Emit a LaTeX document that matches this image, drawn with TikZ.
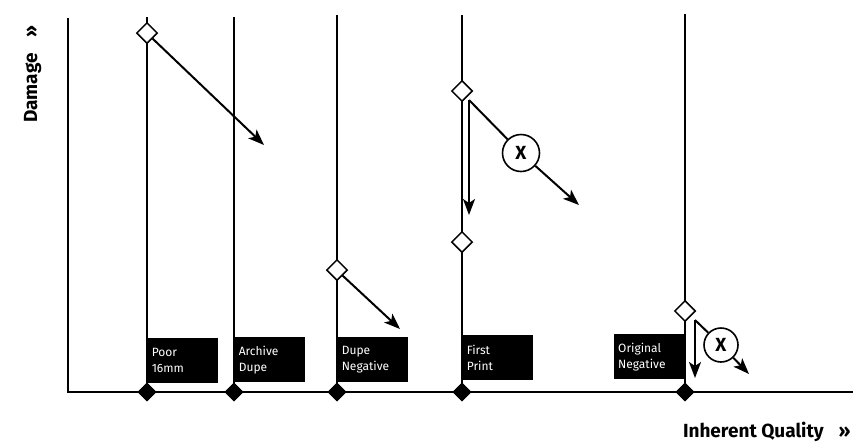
\documentclass[tikz,border=0pt]{standalone}
\usepackage{fontspec}
\setmainfont{Fira Sans}
\usetikzlibrary{arrows.meta,shapes.geometric}
\begin{document}
\begin{tikzpicture}[x=1pt,y=-1pt,
  axisline/.style={line width=2.8pt},
  stem/.style={line width=1.5pt},
  opend/.style={diamond,draw,fill=white,line width=1.5pt,minimum width=21pt,minimum height=21pt,inner sep=0pt},
  filld/.style={diamond,fill=black,minimum width=19pt,minimum height=19pt,inner sep=0pt},
  lab/.style={fill=black,text=white,font=\fontsize{12}{16}\selectfont,align=left,text width=62pt,inner xsep=4pt,inner ysep=0pt,minimum height=45pt},
  xmark/.style={circle,draw,fill=white,line width=1.6pt,inner sep=0pt,font=\bfseries\fontsize{19}{19}\selectfont},
  arr/.style={line width=2pt,-{Stealth[length=16pt,width=12pt,inset=4pt]}},
  plain/.style={line width=2pt},
  axlab/.style={font=\bfseries\fontsize{19}{19}\selectfont}
]
\useasboundingbox (0,0) rectangle (862,445);

% axes
\coordinate (ytop) at (68,18);
\coordinate (orig) at (68,392);
\coordinate (xend) at (853,392);
\draw[axisline] (ytop) -- (orig) -- (xend);

% stems tops
\coordinate (t1) at (147,17);
\coordinate (t2) at (234,17);
\coordinate (t3) at (337,15);
\coordinate (t4) at (462,15);
\coordinate (t5) at (685,14);

% bottom diamonds
\node[filld] (b1) at (147,392) {};
\node[filld] (b2) at (234,392) {};
\node[filld] (b3) at (337,392) {};
\node[filld] (b4) at (462,392) {};
\node[filld] (b5) at (685,392) {};

\draw[stem] (t1) -- (b1.center);
\draw[stem] (t2) -- (b2.center);
\draw[stem] (t3) -- (b3.center);
\draw[stem] (t4) -- (b4.center);
\draw[stem] (t5) -- (b5.center);

% label boxes
\node[lab,anchor=north west] (l1) at (147.6,338) {Poor\\16mm};
\node[lab,anchor=north west] (l2) at (234.6,337) {Archive\\Dupe};
\node[lab,anchor=north west] (l3) at (337.6,337) {Dupe\\Negative};
\node[lab,anchor=north west] (l4) at (462.6,335) {First\\Print};
\node[lab,anchor=north east] (l5) at (684.4,334) {Original\\Negative};

% redraw bottom diamonds on top
\node[filld] at (b1) {};
\node[filld] at (b2) {};
\node[filld] at (b3) {};
\node[filld] at (b4) {};
\node[filld] at (b5) {};

% open diamonds
\node[opend] (d1) at (147,33) {};
\node[opend] (d3) at (337,270) {};
\node[opend] (d4) at (462,91) {};
\node[opend] (d4b) at (462,242) {};
\node[opend] (d5) at (685,311) {};

% Poor 16mm arrow
\coordinate (e1) at (264,145);
\draw[arr] (d1.south east) -- (e1);

% Dupe negative arrow
\coordinate (e3) at (400,329);
\draw[arr] (d3.south east) -- (e3);

% First print
\coordinate (s4) at (469,100);
\coordinate (e4a) at (469,215);
\node[xmark,minimum size=37pt] (x4) at (521,153) {X};
\coordinate (e4b) at (579,205);
\draw[arr] (s4) -- (e4a);
\draw[plain] (s4) -- (x4);
\draw[arr] (x4) -- (e4b);

% Original negative
\coordinate (s5) at (695,320);
\coordinate (e5a) at (695,378);
\node[xmark,minimum size=34pt] (x5) at (721,345) {X};
\coordinate (e5b) at (749,374);
\draw[arr] (s5) -- (e5a);
\draw[plain] (s5) -- (x5);
\draw[arr] (x5) -- (e5b);

% axis labels
\node[axlab,anchor=base east] (ql) at (854,437) {Inherent Quality\hspace{15pt}»};
\node[axlab,rotate=90,anchor=base east] (dl) at (37,22) {Damage\hspace{16pt}»};
\end{tikzpicture}
\end{document}
